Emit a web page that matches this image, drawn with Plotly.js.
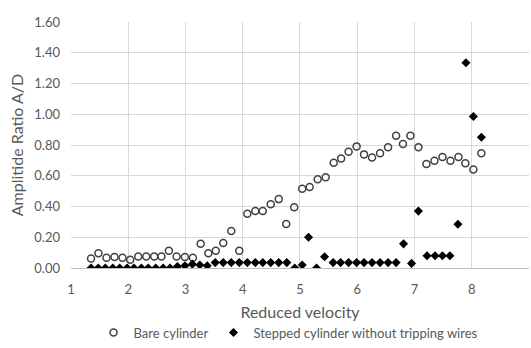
<!DOCTYPE html>
<html>
<head>
<meta charset="utf-8">
<script src="https://cdn.plot.ly/plotly-3.0.1.min.js"></script>
<style>html,body{margin:0;padding:0;background:#fff;}#chart{width:531px;height:348px;}</style>
</head>
<body>
<div id="chart"></div>
<script>
// Bare cylinder
const bareX = [1.35,1.48,1.62,1.76,1.90,2.035,2.175,2.315,2.454,2.58,2.71,2.845,2.99,3.13,3.265,3.40,3.53,3.66,3.80,3.94,4.08,4.22,4.35,4.49,4.63,4.76,4.90,5.04,5.17,5.31,5.45,5.59,5.72,5.85,5.99,6.12,6.26,6.40,6.54,6.68,6.80,6.93,7.07,7.21,7.35,7.49,7.63,7.77,7.89,8.03,8.17];
const bareY = [0.062,0.096,0.067,0.071,0.067,0.054,0.075,0.075,0.075,0.075,0.112,0.075,0.071,0.067,0.158,0.096,0.112,0.162,0.241,0.112,0.353,0.37,0.37,0.415,0.448,0.286,0.395,0.515,0.527,0.577,0.59,0.685,0.712,0.756,0.791,0.739,0.718,0.747,0.785,0.86,0.806,0.86,0.785,0.677,0.697,0.722,0.697,0.722,0.681,0.641,0.747];
// Stepped cylinder without tripping wires
const stepX = [1.35,1.475,1.60,1.73,1.85,1.98,2.10,2.23,2.35,2.48,2.61,2.73,2.86,2.99,3.12,3.25,3.38,3.52,3.66,3.80,3.94,4.08,4.22,4.35,4.49,4.63,4.77,4.91,5.04,5.15,5.29,5.43,5.58,5.71,5.85,5.99,6.12,6.26,6.40,6.54,6.68,6.81,6.95,7.07,7.22,7.36,7.49,7.62,7.76,7.90,8.03,8.17];
const stepY = [0,0,0,0,0,0,0,0,0,0,0,0,0.01,0.015,0.025,0.02,0.015,0.035,0.035,0.035,0.035,0.035,0.035,0.035,0.035,0.035,0.035,0.0,0.02,0.2,0.0,0.073,0.035,0.035,0.035,0.035,0.035,0.035,0.035,0.035,0.035,0.157,0.03,0.37,0.08,0.08,0.08,0.08,0.285,1.335,0.985,0.85];
const seriesNames = ['Bare cylinder','Stepped cylinder without tripping wires'];
const xTitle = 'Reduced velocity';
const yTitle = 'Amplitide Ratio A/D';

const font = 'Lato, "Open Sans", sans-serif';
const traces = [
  {x: bareX, y: bareY, name: seriesNames[0], type: 'scatter', mode: 'markers',
   marker: {symbol: 'circle-open', size: 7, color: '#404040', line: {width: 1.5, color: '#404040'}}},
  {x: stepX, y: stepY, name: seriesNames[1], type: 'scatter', mode: 'markers',
   marker: {symbol: 'diamond', size: 7, color: '#000000'}}
];
const layout = {
  width: 531, height: 348,
  margin: {l: 71, r: 2, t: 22, b: 79},
  paper_bgcolor: '#ffffff', plot_bgcolor: '#ffffff',
  font: {family: font, color: '#595959', size: 13},
  showlegend: true,
  legend: {orientation: 'h', x: 0.475, xanchor: 'center', y: -0.318, yanchor: 'bottom',
           font: {family: font, size: 13, color: '#595959'}, itemwidth: 30, traceorder: 'normal'},
  xaxis: {range: [1, 9.002], dtick: 1, tick0: 1, showgrid: true, gridcolor: '#d9d9d9', gridwidth: 1,
          zeroline: false, showline: true, linecolor: '#bfbfbf', linewidth: 1, ticks: '',
          ticklabelstandoff: 9, automargin: false,
          tickfont: {family: font, size: 13, color: '#595959'},
          title: {text: xTitle, font: {family: font, size: 16, color: '#595959'}, standoff: 11}},
  yaxis: {range: [0, 1.6], dtick: 0.2, tick0: 0, tickformat: '.2f', showgrid: true, gridcolor: '#d9d9d9', gridwidth: 1,
          zeroline: false, showline: false, ticks: '', ticklabelstandoff: 10, automargin: false,
          tickfont: {family: font, size: 13, color: '#595959'},
          title: {text: yTitle, font: {family: font, size: 16, color: '#595959'}, standoff: 6}}
};
Plotly.newPlot('chart', traces, layout, {displayModeBar: false, staticPlot: true});
</script>
</body>
</html>
